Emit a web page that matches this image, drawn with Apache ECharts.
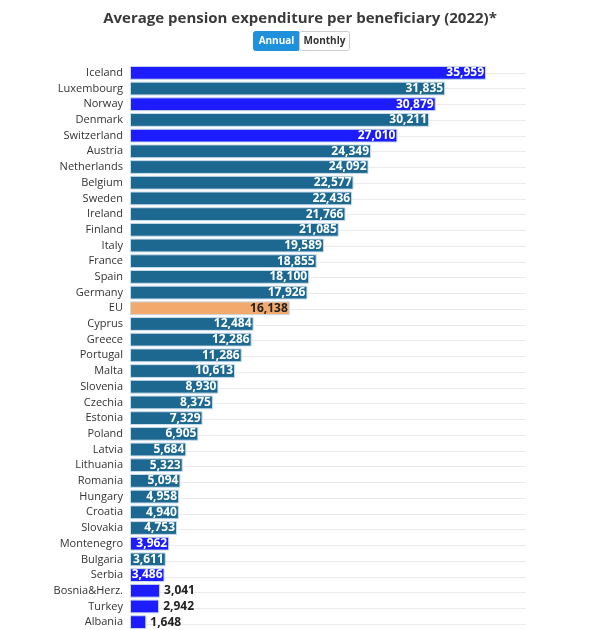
<!DOCTYPE html>
<html lang="en" style="height: 100%">
<head>
  <meta charset="utf-8">
</head>
<body style="height: 100%; margin: 0; background: #fff">
  <div id="container" style="width: 600px; height: 630px"></div>
  <script type="text/javascript" src="https://fastly.jsdelivr.net/npm/echarts@6/dist/echarts.min.js"></script>
  <script type="text/javascript">
    // data (EUR per beneficiary, 2022)
    var countries = ['Iceland', 'Luxembourg', 'Norway', 'Denmark', 'Switzerland', 'Austria',
      'Netherlands', 'Belgium', 'Sweden', 'Ireland', 'Finland', 'Italy', 'France', 'Spain',
      'Germany', 'EU', 'Cyprus', 'Greece', 'Portugal', 'Malta', 'Slovenia', 'Czechia',
      'Estonia', 'Poland', 'Latvia', 'Lithuania', 'Romania', 'Hungary', 'Croatia',
      'Slovakia', 'Montenegro', 'Bulgaria', 'Serbia', 'Bosnia&Herz.', 'Turkey', 'Albania'];
    var values = [35959, 31835, 30879, 30211, 27010, 24349, 24092, 22577, 22436, 21766,
      21085, 19589, 18855, 18100, 17926, 16138, 12484, 12286, 11286, 10613, 8930, 8375,
      7329, 6905, 5684, 5323, 5094, 4958, 4940, 4753, 3962, 3611, 3486, 3041, 2942, 1648];
    // 'eu' member, 'non' non-member, 'avg' EU average
    var groups = ['non', 'eu', 'non', 'eu', 'non', 'eu', 'eu', 'eu', 'eu', 'eu', 'eu', 'eu',
      'eu', 'eu', 'eu', 'avg', 'eu', 'eu', 'eu', 'eu', 'eu', 'eu', 'eu', 'eu', 'eu', 'eu',
      'eu', 'eu', 'eu', 'eu', 'non', 'eu', 'non', 'non', 'non', 'non'];

    var colors = { eu: '#1d6891', non: '#1c1cff', avg: '#f3a96b' };
    var font = '"Open Sans", "Noto Sans", sans-serif';

    var plotTop = 65, rowH = 15.75, plotH = rowH * countries.length;

    var barData = values.map(function (v, i) {
      var g = groups[i];
      var outside = v < 3300;
      return {
        value: v,
        itemStyle: { color: colors[g] },
        label: {
          position: outside ? 'right' : 'insideRight',
          color: (outside || g === 'avg') ? '#222' : '#fff',
          distance: outside ? 4 : 2
        }
      };
    });

    var myChart = echarts.init(document.getElementById('container'), null, { renderer: 'canvas' });

    var option = {
      animation: false,
      title: {
        text: 'Average pension expenditure per beneficiary (2022)*',
        left: 'center',
        top: 6,
        textStyle: { fontFamily: font, fontSize: 15, fontWeight: 'bold', color: '#3a3a3a' }
      },
      graphic: [
        {
          type: 'group', left: 253, top: 31,
          children: [
            { type: 'rect', shape: { x: 0, y: 0, width: 46, height: 19, r: 2 },
              style: { fill: '#1e90dc', stroke: '#1e90dc' } },
            { type: 'text', x: 23, y: 10,
              style: { text: 'Annual', fill: '#fff', font: 'bold 10px ' + font, align: 'center', verticalAlign: 'middle' } },
            { type: 'rect', shape: { x: 46, y: 0, width: 50, height: 19, r: 2 },
              style: { fill: '#fff', stroke: '#ccc', lineWidth: 1 } },
            { type: 'text', x: 71, y: 10,
              style: { text: 'Monthly', fill: '#333', font: 'bold 10px ' + font, align: 'center', verticalAlign: 'middle' } }
          ]
        }
      ],
      grid: [
        { left: 130, width: 396, top: plotTop, height: plotH },
        // second grid only carries the row lines, which sit on the row centres
        { left: 130, width: 396, top: plotTop + rowH / 2, height: plotH - rowH }
      ],
      xAxis: [
        { type: 'value', min: 0, max: 40000, show: false, gridIndex: 0 },
        { type: 'value', min: 0, max: 40000, show: false, gridIndex: 1 }
      ],
      yAxis: [
        {
          type: 'category',
          gridIndex: 0,
          inverse: true,
          data: countries,
          axisLine: { show: false },
          axisTick: { show: false },
          axisLabel: { fontFamily: font, fontSize: 11, color: '#333', margin: 7 },
          splitLine: { show: false }
        },
        {
          type: 'category',
          gridIndex: 1,
          inverse: true,
          boundaryGap: false,
          data: countries,
          axisLine: { show: false },
          axisTick: { show: false },
          axisLabel: { show: false },
          splitLine: { show: true, lineStyle: { color: '#ebebeb', width: 1 } }
        }
      ],
      series: [{
        type: 'bar',
        data: barData,
        barCategoryGap: '12%',
        itemStyle: { borderColor: '#c8dcec', borderWidth: 1 },
        label: {
          show: true,
          fontFamily: font,
          fontSize: 12,
          fontWeight: 'bold',
          formatter: function (p) { return p.value.toLocaleString('en-US'); }
        }
      }]
    };

    myChart.setOption(option);
    window.addEventListener('resize', myChart.resize);
  </script>
</body>
</html>
